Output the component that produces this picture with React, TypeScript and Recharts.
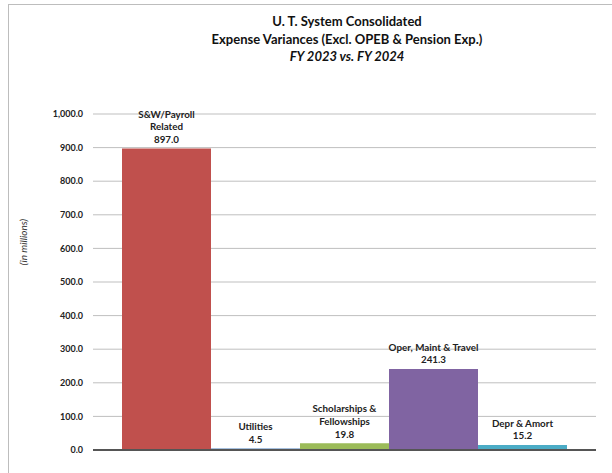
import { BarChart, Bar, XAxis, YAxis, CartesianGrid, Cell, LabelList } from 'recharts';

const categories = [
    'S&W/Payroll\nRelated',
    'Utilities',
    'Scholarships &\nFellowships',
    'Oper, Maint & Travel',
    'Depr & Amort',
];
const values = [897.0, 4.5, 19.8, 241.3, 15.2];
const yTicks = [0, 100, 200, 300, 400, 500, 600, 700, 800, 900, 1000];
const titleLines = ['U. T. System Consolidated', 'Expense Variances (Excl. OPEB & Pension Exp.)'];
const subtitle = 'FY 2023 vs. FY 2024';
const yLabel = '(in millions)';

const barColors = ['#C0504D', '#4F81BD', '#9BBB59', '#8064A2', '#4BACC6'];

const data = categories.map((name, i) => ({ name, value: values[i] }));

const fontFamily = 'Lato, "Open Sans", sans-serif';

const fmt = (v: number) =>
    v.toLocaleString('en-US', { minimumFractionDigits: 1, maximumFractionDigits: 1 });

function BarLabel(props: any) {
    const { x, y, width, index } = props;
    const lines = [...categories[index].split('\n'), fmt(values[index])];
    const cx = x + width / 2;
    const lastBase = y - 5.5;
    return (
        <g>
            {lines.map((t, i) => (
                <text
                    key={i}
                    x={cx}
                    y={lastBase - (lines.length - 1 - i) * 12.8}
                    textAnchor="middle"
                    fontFamily={fontFamily}
                    fontWeight="bold"
                    fontSize={9.8}
                    fill="#222"
                >
                    {t}
                </text>
            ))}
        </g>
    );
}

export default function App() {
    return (
        <div
            style={{
                position: 'absolute',
                left: 0,
                top: 0,
                width: 612,
                height: 473,
                overflow: 'hidden',
                background: '#fff',
            }}
        >
            <div
                style={{
                    position: 'absolute',
                    left: 8,
                    top: 4,
                    width: 800,
                    height: 800,
                    borderLeft: '1px solid #bdbdbd',
                    borderTop: '1px solid #bdbdbd',
                }}
            />
            <div
                style={{
                    position: 'absolute',
                    left: 147,
                    top: 13,
                    width: 400,
                    textAlign: 'center',
                    fontFamily,
                    fontWeight: 'bold',
                    fontSize: 13,
                    lineHeight: '17.5px',
                    color: '#111',
                }}
            >
                {titleLines.map((t) => (
                    <div key={t}>{t}</div>
                ))}
                <div style={{ fontStyle: 'italic' }}>{subtitle}</div>
            </div>
            <div
                style={{
                    position: 'absolute',
                    left: 23,
                    top: 242,
                    transform: 'translate(-50%, -50%) rotate(-90deg)',
                    fontFamily,
                    fontStyle: 'italic',
                    fontSize: 10,
                    color: '#333',
                    whiteSpace: 'nowrap',
                }}
            >
                {yLabel}
            </div>
            <div style={{ position: 'absolute', left: 0, top: 0 }}>
                <BarChart
                    width={612}
                    height={473}
                    data={data}
                    margin={{ top: 114, right: 16, left: 33, bottom: 13 }}
                    barCategoryGap={0}
                >
                    <CartesianGrid vertical={false} stroke="#bfbfbf" />
                    <XAxis
                        dataKey="name"
                        tick={false}
                        tickLine={false}
                        height={10}
                        padding={{ left: 29, right: 29 }}
                        axisLine={{ stroke: '#555', strokeWidth: 2 }}
                    />
                    <YAxis
                        domain={[0, 1000]}
                        ticks={yTicks}
                        width={60}
                        tickLine={false}
                        axisLine={false}
                        tickMargin={4}
                        tickFormatter={fmt}
                        tick={{ fontFamily, fontWeight: 'bold', fontSize: 9, fill: '#222' }}
                    />
                    <Bar dataKey="value" isAnimationActive={false}>
                        {data.map((d, i) => (
                            <Cell key={d.name} fill={barColors[i]} />
                        ))}
                        <LabelList dataKey="value" content={BarLabel} />
                    </Bar>
                </BarChart>
            </div>
        </div>
    );
}
